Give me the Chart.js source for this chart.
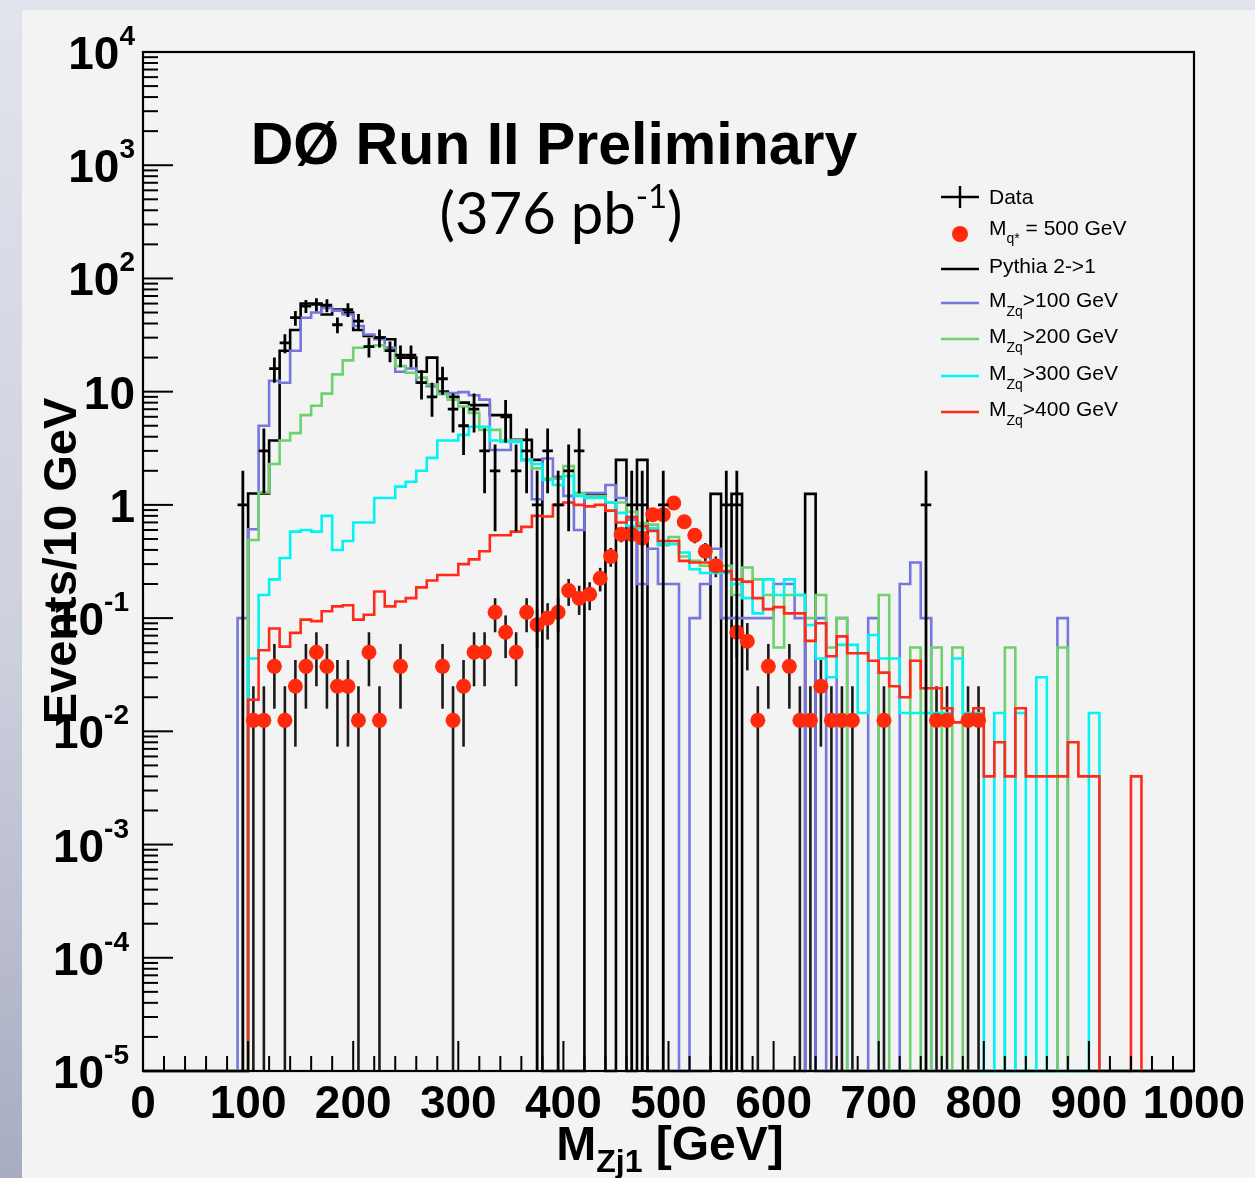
<!DOCTYPE html>
<html>
<head>
<meta charset="utf-8">
<script src="https://cdn.jsdelivr.net/npm/chart.js@4.4.1/dist/chart.umd.min.js"></script>
<style>
  html, body { margin: 0; padding: 0; }
  body {
    width: 1255px; height: 1178px; overflow: hidden; position: relative;
    background: linear-gradient(to bottom, #e1e4ec 0%, #cdd0dd 55%, #a8acc2 100%);
  }
  #panel { position: absolute; left: 22px; top: 10px; right: 0; bottom: 0; background: #f3f3f3; }
  #wrap { position: absolute; left: 0; top: 0; width: 1255px; height: 1178px; }
</style>
</head>
<body>
<div id="panel"></div>
<div id="wrap"><canvas id="massChart" width="1255" height="1178"></canvas></div>
<script>
// 10 GeV bins from 0 to 1000 GeV, one value per bin (0 = empty bin)
const binWidth = 10;
const yFloor = 1e-5;

const pythia = [
  0, 0, 0, 0, 0, 0, 0, 0, 0, 0,
  1.26, 1.26, 3.7, 23, 35, 60, 60, 48, 53, 50,
  35, 31, 30, 29, 20, 20, 15, 20, 10, 9,
  8, 7.6, 7.6, 6.2, 6.2, 3.75, 3.75, 2.5, 0, 0,
  0, 0, 1.25, 1.25, 0, 2.5, 0, 2.5, 0, 0,
  0, 0, 0, 0, 1.25, 0, 1.25, 0, 0, 0,
  0, 0, 0, 1.25, 0, 0, 0, 0, 0, 0,
  0, 0, 0, 0, 0, 0, 0, 0, 0, 0,
  0, 0, 0, 0, 0, 0, 0, 0, 0, 0,
  0, 0, 0, 0, 0, 0, 0, 0, 0, 0
];
const mzq100 = [
  0, 0, 0, 0, 0, 0, 0, 0, 0, 0.1,
  0.61, 5.0, 12.5, 12, 23, 45, 50, 55, 52, 48,
  38, 32, 29, 24.5, 15, 16, 12, 11.2, 9.7, 9.7,
  9.9, 9.3, 8.5, 3.05, 3.05, 3.75, 2.5, 1.12, 2.57, 1.77,
  1.2, 0.6, 1.27, 1.27, 1.5, 1.15, 0.74, 0.2, 0.41, 0.2,
  0.2, 0, 0.1, 0.2, 0.41, 0.1, 0.1, 0.1, 0.1, 0.1,
  0.2, 0.2, 0.1, 0, 0.1, 0, 0.1, 0, 0, 0.1,
  0, 0, 0.2, 0.31, 0.1, 0, 0, 0, 0, 0,
  0, 0, 0, 0, 0, 0, 0, 0.1, 0, 0,
  0, 0, 0, 0, 0, 0, 0, 0, 0, 0
];
const mzq200 = [
  0, 0, 0, 0, 0, 0, 0, 0, 0, 0,
  0.49, 1.29, 2.3, 3.7, 4.3, 6.2, 7.5, 9.6, 14.2, 18.9,
  24.4, 25, 25.7, 23, 16.8, 14.7, 13.3, 11.6, 9.5, 8.5,
  7.4, 6.5, 4.6, 4.6, 3.7, 3.7, 2.5, 2.1, 1.7, 1.7,
  2.2, 1.27, 1.19, 1.19, 1.05, 1.05, 0.87, 0.69, 0.67, 0.44,
  0.52, 0.35, 0.32, 0.29, 0.32, 0.29, 0.16, 0.28, 0.22, 0.16,
  0.055, 0.16, 0.16, 0.1, 0.16, 0.055, 0.1, 0, 0, 0,
  0.16, 0, 0, 0.055, 0, 0.055, 0, 0.055, 0, 0,
  0, 0, 0.055, 0, 0, 0, 0, 0.055, 0, 0,
  0, 0, 0, 0, 0, 0, 0, 0, 0, 0
];
const mzq300 = [
  0, 0, 0, 0, 0, 0, 0, 0, 0, 0,
  0.044, 0.16, 0.22, 0.34, 0.58, 0.6, 0.58, 0.8, 0.4, 0.48,
  0.7, 0.7, 1.15, 1.15, 1.45, 1.6, 2.0, 2.6, 3.7, 3.7,
  4.15, 4.9, 4.9, 3.7, 3.6, 3.6, 2.5, 2.3, 1.66, 1.5,
  1.8, 1.2, 1.15, 1.15, 1.05, 0.85, 0.65, 0.62, 0.62, 0.45,
  0.45, 0.38, 0.27, 0.25, 0.25, 0.25, 0.2, 0.15, 0.11, 0.22,
  0.16, 0.22, 0.16, 0.087, 0.044, 0.03, 0.058, 0.058, 0.0145, 0.071,
  0.044, 0.044, 0.0145, 0.0145, 0.0145, 0.0145, 0.0145, 0.044, 0.0145, 0.0145,
  0, 0.0145, 0, 0.0145, 0, 0.03, 0, 0, 0, 0,
  0.0145, 0, 0, 0, 0, 0, 0, 0, 0, 0
];
const mzq400 = [
  0, 0, 0, 0, 0, 0, 0, 0, 0, 0,
  0.019, 0.052, 0.081, 0.056, 0.074, 0.097, 0.094, 0.115, 0.127, 0.13,
  0.097, 0.107, 0.172, 0.127, 0.14, 0.15, 0.187, 0.215, 0.24, 0.24,
  0.3, 0.33, 0.39, 0.54, 0.54, 0.58, 0.64, 0.8, 0.79, 1.0,
  1.05, 1.0, 0.97, 1.0, 0.89, 0.7, 0.78, 0.65, 0.59, 0.48,
  0.48, 0.32, 0.31, 0.31, 0.28, 0.26, 0.22, 0.21, 0.15, 0.12,
  0.125, 0.11, 0.11, 0.063, 0.09, 0.046, 0.069, 0.049, 0.049, 0.042,
  0.033, 0.025, 0.02, 0.042, 0.024, 0.024, 0.016, 0.012, 0.012, 0.016,
  0.004, 0.008, 0.004, 0.016, 0.004, 0.004, 0.004, 0.004, 0.008, 0.004,
  0.004, 0, 0, 0, 0.004, 0, 0, 0, 0, 0
];
// observed events per bin
const dataCounts = [
  0, 0, 0, 0, 0, 0, 0, 0, 0, 1,
  0, 3, 16, 27, 45, 57, 59, 58, 39, 53,
  42, 25, 30, 23, 21, 21, 12, 9, 13, 7,
  5, 7, 3, 2, 6, 2, 3, 1, 3, 1,
  2, 3, 0, 0, 0, 0, 1, 1, 0, 1,
  0, 0, 0, 0, 0, 1, 1, 0, 0, 0,
  0, 0, 0, 0, 0, 0, 0, 0, 0, 0,
  0, 0, 0, 0, 1, 0, 0, 0, 0, 0,
  0, 0, 0, 0, 0, 0, 0, 0, 0, 0,
  0, 0, 0, 0, 0, 0, 0, 0, 0, 0
];
// excited quark signal, M = 500 GeV (MC events of weight 0.0125)
const signalWeight = 0.0125;
const signal = [
  0, 0, 0, 0, 0, 0, 0, 0, 0, 0,
  0.0125, 0.0125, 0.0375, 0.0125, 0.025, 0.0375, 0.05, 0.0375, 0.025, 0.025,
  0.0125, 0.05, 0.0125, 0, 0.0375, 0, 0, 0, 0.0375, 0.0125,
  0.025, 0.05, 0.05, 0.1125, 0.075, 0.05, 0.1125, 0.0875, 0.1, 0.1125,
  0.175, 0.15, 0.1625, 0.225, 0.35, 0.55, 0.55, 0.51, 0.82, 0.82,
  1.04, 0.71, 0.54, 0.39, 0.29, 0, 0.075, 0.0625, 0.0125, 0.0375,
  0, 0.0375, 0.0125, 0.0125, 0.025, 0.0125, 0.0125, 0.0125, 0, 0,
  0.0125, 0, 0, 0, 0, 0.0125, 0.0125, 0, 0.0125, 0.0125,
  0, 0, 0, 0, 0, 0, 0, 0, 0, 0,
  0, 0, 0, 0, 0, 0, 0, 0, 0, 0
];
const xTicks = [0, 100, 200, 300, 400, 500, 600, 700, 800, 900, 1000];
const yDecades = [-5, -4, -3, -2, -1, 0, 1, 2, 3, 4];

const colBlue = '#7676de';
const colGreen = '#6dd26d';
const colCyan = '#00f4f4';
const colRed = '#ff2a18';
const colSignal = '#ff2a0c';
const fontSans = '"Liberation Sans", Arial, Helvetica, sans-serif';
const fontLumi = 'Lato, "Open Sans", sans-serif';

// histogram -> step outline (empty bins drop to the axis floor)
function stepPoints(vals) {
  const pts = [];
  vals.forEach((v, i) => {
    const y = v > 0 ? v : yFloor;
    pts.push({ x: i * binWidth, y: y });
    pts.push({ x: (i + 1) * binWidth, y: y });
  });
  return pts;
}
function histSet(label, vals, color, order) {
  return {
    type: 'line', label: label, data: stepPoints(vals),
    borderColor: color, borderWidth: 2.6, pointRadius: 0,
    fill: false, tension: 0, clip: false, order: order
  };
}
function centerPoints(vals) {
  const pts = [];
  vals.forEach((v, i) => { if (v > 0) pts.push({ x: (i + 0.5) * binWidth, y: v }); });
  return pts;
}

// draws text made of parts [text, size, dy, font] starting at x
function richText(ctx, parts, x, y, weight) {
  let cx = x;
  parts.forEach(p => {
    ctx.font = (weight || '') + ' ' + p[1] + 'px ' + (p[3] || fontSans);
    ctx.fillText(p[0], cx, y + (p[2] || 0));
    cx += ctx.measureText(p[0]).width;
  });
  return cx - x;
}
function richWidth(ctx, parts, weight) {
  let w = 0;
  parts.forEach(p => {
    ctx.font = (weight || '') + ' ' + p[1] + 'px ' + (p[3] || fontSans);
    w += ctx.measureText(p[0]).width;
  });
  return w;
}

const rootStyle = {
  id: 'rootStyle',
  beforeDatasetsDraw(chart) {
    // signal error bars, under the red markers
    const { ctx, scales: { x, y } } = chart;
    ctx.save();
    ctx.strokeStyle = '#1a1a1a';
    ctx.lineWidth = 2.6;
    signal.forEach((v, i) => {
      if (v <= 0) return;
      const err = Math.sqrt(v * signalWeight);
      const px = x.getPixelForValue((i + 0.5) * binWidth);
      const top = y.getPixelForValue(v + err);
      const low = v - err > yFloor ? y.getPixelForValue(v - err) : y.bottom;
      ctx.beginPath(); ctx.moveTo(px, top); ctx.lineTo(px, low); ctx.stroke();
    });
    ctx.restore();
  },
  afterDatasetsDraw(chart) {
    const { ctx, chartArea: a, scales: { x, y } } = chart;
    ctx.save();
    // data crosses with Poisson error bars
    ctx.strokeStyle = '#000';
    ctx.lineWidth = 2.8;
    dataCounts.forEach((n, i) => {
      if (n <= 0) return;
      const err = Math.sqrt(n);
      const px = x.getPixelForValue((i + 0.5) * binWidth);
      const py = y.getPixelForValue(n);
      const top = y.getPixelForValue(n + err);
      const low = n - err > yFloor ? y.getPixelForValue(n - err) : y.bottom;
      ctx.beginPath();
      ctx.moveTo(px, top); ctx.lineTo(px, low);
      ctx.moveTo(x.getPixelForValue(i * binWidth), py);
      ctx.lineTo(x.getPixelForValue((i + 1) * binWidth), py);
      ctx.stroke();
    });

    // frame
    ctx.lineWidth = 2.2;
    ctx.strokeRect(a.left, a.top, a.right - a.left, a.bottom - a.top);

    // x ticks every 20 GeV, long ones every 100
    ctx.lineWidth = 2;
    for (let g = 0; g <= 1000; g += 20) {
      const px = x.getPixelForValue(g);
      const len = g % 100 === 0 ? 30 : 15;
      ctx.beginPath(); ctx.moveTo(px, a.bottom); ctx.lineTo(px, a.bottom - len); ctx.stroke();
    }
    // y ticks: decades long, 2..9 short
    yDecades.forEach(d => {
      for (let m = 1; m <= 9; m++) {
        const v = m * Math.pow(10, d);
        if (v > 1e4 * 1.0001) continue;
        const py = y.getPixelForValue(v);
        const len = m === 1 ? 30 : 15;
        ctx.beginPath(); ctx.moveTo(a.left, py); ctx.lineTo(a.left + len, py); ctx.stroke();
      }
    });
    const pyTop = y.getPixelForValue(1e4);
    ctx.beginPath(); ctx.moveTo(a.left, pyTop); ctx.lineTo(a.left + 30, pyTop); ctx.stroke();

    // x tick labels
    ctx.fillStyle = '#000';
    ctx.font = 'bold 46px ' + fontSans;
    ctx.textAlign = 'center';
    ctx.textBaseline = 'alphabetic';
    xTicks.forEach(t => ctx.fillText(String(t), x.getPixelForValue(t), a.bottom + 47));

    // y tick labels 10^n
    ctx.textAlign = 'left';
    yDecades.forEach(d => {
      const py = y.getPixelForValue(Math.pow(10, d));
      let parts;
      if (d === 0) parts = [['1', 46, 0]];
      else if (d === 1) parts = [['10', 46, 0]];
      else parts = [['10', 46, 0], [String(d), 28, -24]];
      const w = richWidth(ctx, parts, 'bold');
      const right = d < 0 ? 129 : 135;
      richText(ctx, parts, right - w, py + 17, 'bold');
    });

    // axis titles
    ctx.save();
    ctx.translate(76, 561);
    ctx.rotate(-Math.PI / 2);
    ctx.font = 'bold 47px ' + fontSans;
    ctx.textAlign = 'center';
    ctx.fillText('Events/10 GeV', 0, 0);
    ctx.restore();
    ctx.textAlign = 'left';
    const xt = [['M', 48, 0], ['Zj1', 32, 12], [' [GeV]', 48, 0]];
    const xtw = richWidth(ctx, xt, 'bold');
    richText(ctx, xt, 670 - xtw / 2, 1160, 'bold');

    // headline
    ctx.textAlign = 'center';
    ctx.font = 'bold 59px ' + fontSans;
    ctx.fillText('D\u00d8 Run II Preliminary', 554, 164);
    ctx.textAlign = 'left';
    const lumi = [['(376 pb', 58, 0, fontLumi], ['-1', 33, -26, fontLumi], [')', 58, 0, fontLumi]];
    const lw = richWidth(ctx, lumi, '');
    richText(ctx, lumi, 561 - lw / 2, 234, '');

    // legend
    const lx0 = 941, lx1 = 979, tx = 989;
    ctx.lineWidth = 2.4;
    ctx.strokeStyle = '#000';
    ctx.beginPath();
    ctx.moveTo(lx0, 197); ctx.lineTo(lx1, 197);
    ctx.moveTo(960, 186); ctx.lineTo(960, 208);
    ctx.stroke();
    richText(ctx, [['Data', 21, 0]], tx, 204, '');
    ctx.fillStyle = colSignal;
    ctx.beginPath(); ctx.arc(960, 234, 8, 0, Math.PI * 2); ctx.fill();
    ctx.fillStyle = '#000';
    richText(ctx, [['M', 21, 0], ['q*', 14, 8], [' = 500 GeV', 21, 0]], tx, 235, '');
    const rows = [
      [269, '#000', [['Pythia 2->1', 21, 0]]],
      [303, colBlue, [['M', 21, 0], ['Zq', 14, 9], ['>100 GeV', 21, 0]]],
      [339, colGreen, [['M', 21, 0], ['Zq', 14, 9], ['>200 GeV', 21, 0]]],
      [376, colCyan, [['M', 21, 0], ['Zq', 14, 9], ['>300 GeV', 21, 0]]],
      [412, colRed, [['M', 21, 0], ['Zq', 14, 9], ['>400 GeV', 21, 0]]]
    ];
    rows.forEach(r => {
      ctx.strokeStyle = r[1];
      ctx.beginPath(); ctx.moveTo(lx0, r[0]); ctx.lineTo(lx1, r[0]); ctx.stroke();
      richText(ctx, r[2], tx, r[0] + 4, '');
    });
    ctx.restore();
  }
};

const ctx = document.getElementById('massChart').getContext('2d');
new Chart(ctx, {
  type: 'line',
  data: {
    datasets: [
      {
        type: 'scatter', label: 'Data', data: centerPoints(dataCounts),
        pointRadius: 0, order: 1
      },
      {
        type: 'scatter', label: 'M_q* = 500 GeV', data: centerPoints(signal),
        pointRadius: 7.5, pointHoverRadius: 7.5, backgroundColor: colSignal,
        borderWidth: 0, order: 2
      },
      histSet('M_Zq>400 GeV', mzq400, colRed, 3),
      histSet('M_Zq>300 GeV', mzq300, colCyan, 4),
      histSet('M_Zq>200 GeV', mzq200, colGreen, 5),
      histSet('M_Zq>100 GeV', mzq100, colBlue, 6),
      histSet('Pythia 2->1', pythia, '#000', 7)
    ]
  },
  options: {
    responsive: false,
    animation: false,
    layout: { padding: { left: 143, top: 52, right: 61, bottom: 107 } },
    plugins: { legend: { display: false }, tooltip: { enabled: false } },
    scales: {
      x: { type: 'linear', min: 0, max: 1000, display: false },
      y: { type: 'logarithmic', min: yFloor, max: 1e4, display: false }
    }
  },
  plugins: [rootStyle]
});
</script>
</body>
</html>
